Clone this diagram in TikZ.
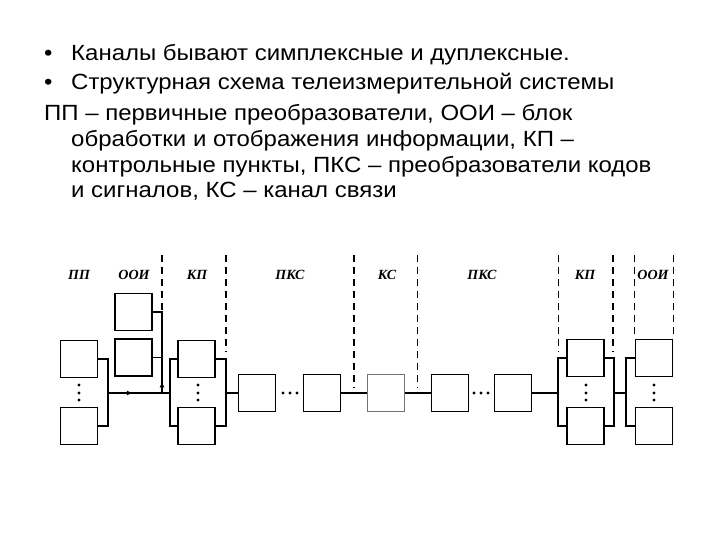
\documentclass[tikz,border=0pt]{standalone}
\usepackage{fontspec}
\setmainfont{Liberation Sans}[FakeStretch=1.09]
\newfontfamily\lblfont{Liberation Serif}
\usetikzlibrary{arrows.meta,decorations.markings}
\tikzset{
  blk/.style={draw, line width=1.8pt, minimum width=37pt, minimum height=37pt, inner sep=0pt, fill=white},
  ksblk/.style={blk, draw=black!55},
  bus/.style={line width=1.6pt},
  sep/.style={line width=0.9pt, dash pattern=on 7pt off 5pt},
  septhick/.style={line width=1.6pt, dash pattern=on 7pt off 5pt},
  lbl/.style={font=\lblfont\bfseries\itshape\fontsize{14}{16}\selectfont},
  txt/.style={anchor=base west, inner sep=0pt, font=\fontsize{22}{26}\selectfont},
  dot/.style={fill, circle, inner sep=0pt, minimum size=3.4pt},
  midarrow/.style={postaction={decorate}, decoration={markings, mark=at position #1 with {\arrow{Latex[length=6pt,width=5pt]}}}}
}
\begin{document}
\begin{tikzpicture}[x=1pt,y=-1pt]
\useasboundingbox (0,0) rectangle (720,540);
% text
\node[txt] (b1) at (44,61) {•};
\node[txt] (t1) at (71,61) {Каналы бывают симплексные и дуплексные.};
\node[txt] (b2) at (44,90) {•};
\node[txt] (t2) at (71,90) {Структурная схема телеизмерительной системы};
\node[txt] (t3) at (44,121) {ПП – первичные преобразователи, ООИ – блок};
\node[txt] (t4) at (71,147) {обработки и отображения информации, КП –};
\node[txt] (t5) at (71,172.5) {контрольные пункты, ПКС – преобразователи кодов};
\node[txt] (t6) at (71,198) {и сигналов, КС – канал связи};
% separators
\draw[septhick] (162,255) -- (162,312);
\draw[septhick] (226,255) -- (226,352);
\draw[septhick] (354,255) -- (354,388);
\draw[sep] (417,255) -- (417,388);
\draw[sep] (558,255) -- (558,352);
\draw[septhick] (613,255) -- (613,352);
\draw[sep] (634,255) -- (634,338);
\draw[sep] (673,255) -- (673,338);
% labels
\node[lbl] (l1) at (79,275) {ПП};
\node[lbl] (l2) at (134,275) {ООИ};
\node[lbl] (l3) at (197,275) {КП};
\node[lbl] (l4) at (290,275) {ПКС};
\node[lbl] (l5) at (387,275) {КС};
\node[lbl] (l6) at (482,275) {ПКС};
\node[lbl] (l7) at (585,275) {КП};
\node[lbl] (l8) at (653,275) {ООИ};
% blocks
\node[blk] (PP1) at (79,359) {};
\node[blk] (PP2) at (79,426) {};
\node[blk] (OOI1) at (133.5,312) {};
\node[blk] (OOI2) at (133.5,357.5) {};
\node[blk] (KP1) at (196.5,359) {};
\node[blk] (KP2) at (196.5,426) {};
\node[blk] (PKS1) at (257,393) {};
\node[blk] (PKS2) at (322,393) {};
\node[ksblk] (KS) at (386,393) {};
\node[blk] (PKS3) at (450,393) {};
\node[blk] (PKS4) at (513,393) {};
\node[blk] (KPr1) at (585.5,358) {};
\node[blk] (KPr2) at (585.5,426) {};
\node[blk] (OOIr1) at (654,358) {};
\node[blk] (OOIr2) at (654,426) {};
% bus points
\coordinate (ppbus) at (108,393);
\coordinate (ooibus) at (162,393);
\coordinate (ooitop) at (162,357.5);
\coordinate (kpL) at (170,393);
\coordinate (kpR) at (226,393);
\coordinate (kprL) at (558,393);
\coordinate (kprR) at (614,393);
\coordinate (ooirL) at (626,393);
% connections
\draw[bus] (PP1.east) -| (ppbus) |- (PP2.east);
\draw[bus, midarrow=0.4] (ppbus) -- (kpL);
\draw[bus] (OOI1.east) -| (ooitop);
\draw[bus] (OOI2.east) -| (ooibus);
\draw[bus, midarrow=0.33] (ooibus) -- (ooitop);
\draw[bus] (KP1.west) -| (kpL) |- (KP2.west);
\draw[bus] (KP1.east) -| (kpR) |- (KP2.east);
\draw[bus] (kpR) -- (PKS1.west);
\draw[bus] (PKS2.east) -- (KS.west);
\draw[bus] (KS.east) -- (PKS3.west);
\draw[bus] (PKS4.east) -- (kprL);
\draw[bus] (KPr1.west) -| (kprL) |- (KPr2.west);
\draw[bus] (KPr1.east) -| (kprR) |- (KPr2.east);
\draw[bus] (kprR) -- (ooirL);
\draw[bus] (OOIr1.west) -| (ooirL) |- (OOIr2.west);
% dots
\foreach \x/\n in {79/a,198/b,586/c,654/d}{
  \foreach \y/\m in {385/1,393/2,400/3}{
    \node[dot] (v\n\m) at (\x,\y) {};
  }
}
\foreach \x/\m in {283/1,290/2,297/3}{\node[dot] (h1\m) at (\x,393) {};}
\foreach \x/\m in {474/1,481/2,488/3}{\node[dot] (h2\m) at (\x,393) {};}
\end{tikzpicture}
\end{document}
